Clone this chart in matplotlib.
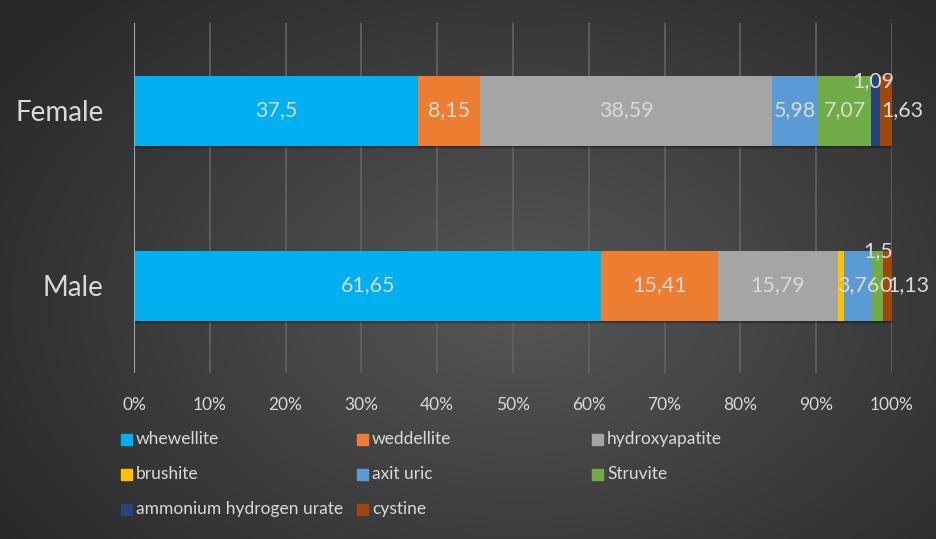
import matplotlib.pyplot as plt
import numpy as np
from matplotlib.patches import Rectangle

plt.rcParams['font.family'] = ['Lato', 'DejaVu Sans']

groups = ['Male', 'Female']
series = ['whewellite', 'weddellite', 'hydroxyapatite', 'brushite',
          'axit uric', 'Struvite', 'ammonium hydrogen urate', 'cystine']
colors = ['#00B0F0', '#ED7D31', '#A5A5A5', '#FFC000',
          '#5B9BD5', '#70AD47', '#264478', '#9E480E']
male = [61.65, 15.41, 15.79, 0.76, 3.76, 1.5, 0.0, 1.13]
female = [37.5, 8.15, 38.59, 0.0, 5.98, 7.07, 1.09, 1.63]
# which labels are printed (brushite labels are not shown in the original)
show_male = [True, True, True, False, True, True, True, True]
show_female = [True, True, True, False, True, True, True, True]
# label nudges in pixels (dx, dy)
nudge = {('Female', 6): (-2, 29), ('Female', 7): (17, 0),
         ('Male', 5): (0, 34), ('Male', 6): (2, 0), ('Male', 7): (21, 0)}

W, H = 937, 539
fig = plt.figure(figsize=(W / 100, H / 100), dpi=100)

# radial gradient background
bg = fig.add_axes([0, 0, 1, 1])
yy, xx = np.mgrid[0:H, 0:W]
r = np.sqrt(((xx - 520) / 620.0) ** 2 + ((yy - 300) / 420.0) ** 2)
shade = 0.34 - 0.18 * np.clip(r, 0, 1)
bg.imshow(np.dstack([shade, shade, shade]), aspect='auto', extent=[0, 1, 0, 1])
bg.axis('off')

ax = fig.add_axes([134 / W, 1 - 373 / H, 758 / W, 350 / H])
ax.patch.set_alpha(0)

data = {'Male': male, 'Female': female}
shows = {'Male': show_male, 'Female': show_female}
for gi, g in enumerate(groups):
    vals = np.array(data[g])
    tot = vals.sum()
    # soft shadow under the bar
    for k, a in [(0.018, 0.10), (0.012, 0.14), (0.006, 0.18)]:
        ax.barh(gi - k, 100, height=0.4, color='black', alpha=a, zorder=2,
                linewidth=0)
    left = 0.0
    for si, v in enumerate(vals):
        w = v / tot * 100
        ax.barh(gi, w, left=left, height=0.4, color=colors[si], zorder=3,
                linewidth=0)
        if shows[g][si]:
            dx, dy = nudge.get((g, si), (0, 0))
            txt = ('%g' % v).replace('.', ',')
            ax.annotate(txt, (left + w / 2, gi), xytext=(dx * 0.72, dy * 0.72),
                        textcoords='offset points', ha='center', va='center',
                        color='#D9D9D9', fontsize=15.5, zorder=5)
        left += w

ax.set_xlim(0, 100)
ax.set_ylim(-0.5, 1.5)
ax.set_xticks(np.arange(0, 101, 10))
ax.set_xticklabels(['%d%%' % t for t in range(0, 101, 10)])
ax.set_yticks([0, 1])
ax.set_yticklabels(groups)
ax.tick_params(axis='x', length=0, pad=17, labelsize=12.5, colors='#D9D9D9')
ax.tick_params(axis='y', length=0, pad=22, labelsize=20, colors='#D9D9D9')
ax.grid(axis='x', color='#606060', linewidth=1.3, zorder=0)
for s in ax.spines.values():
    s.set_visible(False)
ax.axvline(0, color='#A6A6A6', linewidth=1.5, zorder=4)

# legend, three equal columns
col_x = [121, 357, 592]
row_y = [439, 474, 509]
for i, name in enumerate(series):
    cx = col_x[i % 3]
    cy = row_y[i // 3]
    fig.patches.append(Rectangle((cx / W, 1 - (cy + 6) / H), 11 / W, 11 / H,
                                 transform=fig.transFigure, color=colors[i]))
    fig.text((cx + 15) / W, 1 - cy / H, name, color='#D9D9D9', fontsize=12.5,
             va='center', ha='left')

fig.savefig('out.png', dpi=100)
